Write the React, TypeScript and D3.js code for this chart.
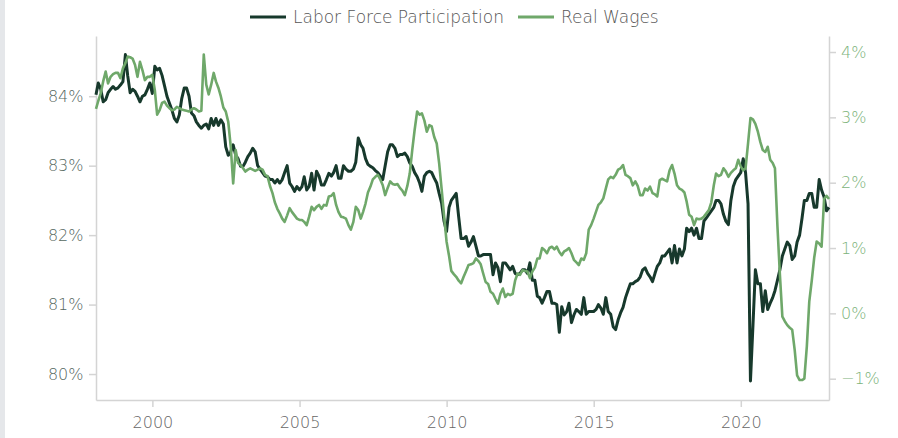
import * as d3 from "d3";
import React, { useEffect, useRef } from "react";

// prime-age labor force participation, monthly Jan 1998 - Dec 2022 (%)
const lfp: number[] = [
	84.02, 84.19, 84.1, 83.92, 83.95, 84.05, 84.1, 84.14, 84.1, 84.12, 84.16, 84.21, // 1998
	84.6, 84.3, 84.05, 84.1, 84.07, 84.0, 83.92, 84.0, 84.02, 84.1, 84.19, 84.04, // 1999
	84.43, 84.38, 84.4, 84.3, 84.15, 84.0, 83.9, 83.8, 83.68, 83.63, 83.73, 83.97, // 2000
	84.12, 84.12, 84.0, 83.76, 83.72, 83.63, 83.58, 83.54, 83.58, 83.6, 83.53, 83.68, // 2001
	83.58, 83.68, 83.58, 83.66, 83.6, 83.27, 83.15, 83.2, 83.3, 83.15, 83.1, 82.99, // 2002
	82.99, 83.05, 83.13, 83.18, 83.25, 83.2, 83.0, 82.95, 82.9, 82.85, 82.84, 82.8, // 2003
	82.8, 82.75, 82.8, 82.75, 82.8, 82.9, 83.0, 82.75, 82.7, 82.63, 82.7, 82.65, // 2004
	82.7, 82.84, 82.65, 82.7, 82.89, 82.65, 82.92, 82.85, 82.72, 82.72, 82.8, 82.89, // 2005
	82.85, 82.9, 83.0, 82.82, 82.82, 83.0, 82.95, 82.92, 82.92, 82.95, 83.05, 83.4, // 2006
	83.3, 83.25, 83.1, 83.02, 82.99, 82.97, 82.93, 82.9, 82.85, 82.8, 83.0, 83.2, // 2007
	83.3, 83.3, 83.25, 83.13, 83.16, 83.16, 83.18, 83.13, 83.04, 82.99, 82.9, 82.84, // 2008
	82.75, 82.63, 82.85, 82.9, 82.92, 82.9, 82.82, 82.75, 82.6, 82.46, 82.2, 82.05, // 2009
	82.4, 82.5, 82.55, 82.6, 82.26, 81.95, 81.95, 81.98, 81.84, 81.9, 81.98, 81.84, // 2010
	81.7, 81.7, 81.72, 81.72, 81.72, 81.72, 81.43, 81.6, 81.53, 81.33, 81.6, 81.6, // 2011
	81.55, 81.5, 81.55, 81.45, 81.43, 81.45, 81.5, 81.5, 81.45, 81.6, 81.35, 81.35, // 2012
	81.12, 81.1, 81.02, 81.1, 81.19, 81.19, 81.02, 81.02, 81.0, 80.6, 80.97, 80.85, // 2013
	80.9, 81.02, 80.74, 80.85, 80.93, 80.9, 80.86, 81.1, 80.86, 80.9, 80.9, 80.9, // 2014
	80.93, 81.0, 80.95, 80.86, 81.1, 80.9, 80.86, 80.68, 80.64, 80.78, 80.88, 80.96, // 2015
	81.1, 81.2, 81.3, 81.3, 81.33, 81.35, 81.4, 81.5, 81.53, 81.45, 81.4, 81.33, // 2016
	81.45, 81.55, 81.6, 81.7, 81.7, 81.75, 81.8, 81.6, 81.85, 81.6, 81.8, 81.7, // 2017
	81.8, 82.1, 82.05, 82.1, 82.0, 82.1, 81.95, 81.95, 82.2, 82.25, 82.3, 82.35, // 2018
	82.4, 82.5, 82.5, 82.45, 82.3, 82.2, 82.15, 82.5, 82.7, 82.8, 82.85, 82.9, // 2019
	83.1, 82.9, 82.45, 79.9, 80.7, 81.5, 81.3, 81.3, 80.9, 81.2, 80.93, 81.02, // 2020
	81.1, 81.2, 81.35, 81.5, 81.7, 81.8, 81.9, 81.85, 81.65, 81.7, 81.9, 82.0, // 2021
	82.25, 82.5, 82.5, 82.6, 82.6, 82.4, 82.4, 82.8, 82.65, 82.55, 82.35, 82.4, // 2022
];

// real wage growth, same months (%)
const realWages: number[] = [
	3.13, 3.25, 3.37, 3.55, 3.7, 3.52, 3.62, 3.66, 3.68, 3.68, 3.6, 3.75, // 1998
	3.83, 3.93, 3.92, 3.9, 3.8, 3.62, 3.85, 3.72, 3.57, 3.62, 3.62, 3.65, // 1999
	3.42, 3.04, 3.11, 3.22, 3.24, 3.18, 3.14, 3.11, 3.12, 3.16, 3.14, 3.12, // 2000
	3.11, 3.1, 3.09, 3.12, 3.14, 3.12, 3.09, 3.1, 3.96, 3.5, 3.35, 3.5, // 2001
	3.68, 3.55, 3.45, 3.32, 3.15, 3.09, 2.93, 2.55, 1.99, 2.5, 2.3, 2.27, // 2002
	2.22, 2.17, 2.2, 2.22, 2.2, 2.18, 2.2, 2.22, 2.2, 2.12, 2.1, 1.95, // 2003
	1.84, 1.7, 1.6, 1.53, 1.45, 1.4, 1.5, 1.61, 1.55, 1.5, 1.45, 1.43, // 2004
	1.43, 1.4, 1.35, 1.48, 1.63, 1.58, 1.63, 1.66, 1.6, 1.66, 1.65, 1.79, // 2005
	1.8, 1.84, 1.66, 1.55, 1.48, 1.47, 1.45, 1.35, 1.28, 1.4, 1.63, 1.58, // 2006
	1.45, 1.55, 1.68, 1.85, 1.94, 2.05, 2.09, 2.12, 2.05, 1.96, 1.81, 1.92, // 2007
	2.02, 1.98, 1.97, 1.98, 1.92, 1.88, 1.81, 1.95, 2.14, 2.5, 2.81, 3.09, // 2008
	3.04, 3.06, 2.95, 2.78, 2.88, 2.86, 2.7, 2.6, 2.3, 1.9, 1.5, 1.1, // 2009
	0.88, 0.65, 0.6, 0.56, 0.5, 0.46, 0.56, 0.65, 0.74, 0.75, 0.77, 0.84, // 2010
	0.8, 0.75, 0.61, 0.48, 0.45, 0.33, 0.3, 0.22, 0.15, 0.3, 0.38, 0.25, // 2011
	0.3, 0.28, 0.3, 0.5, 0.61, 0.59, 0.66, 0.65, 0.64, 0.54, 0.64, 0.7, // 2012
	0.84, 0.84, 1.0, 0.97, 0.92, 1.0, 1.02, 0.98, 1.02, 0.94, 0.89, 0.95, // 2013
	0.97, 1.0, 0.92, 0.82, 0.78, 0.74, 0.84, 0.82, 0.92, 1.28, 1.35, 1.45, // 2014
	1.56, 1.66, 1.7, 1.76, 1.91, 2.05, 2.09, 2.07, 2.12, 2.2, 2.22, 2.27, // 2015
	2.12, 2.1, 2.07, 1.96, 2.02, 1.95, 1.81, 1.81, 1.91, 1.88, 1.94, 1.84, // 2016
	1.82, 1.79, 2.04, 2.06, 2.04, 2.02, 2.19, 2.27, 2.14, 1.96, 1.91, 1.89, // 2017
	1.85, 1.71, 1.51, 1.48, 1.35, 1.45, 1.44, 1.45, 1.48, 1.53, 1.58, 1.7, // 2018
	1.96, 2.14, 2.1, 2.12, 2.22, 2.17, 2.09, 2.15, 2.19, 2.22, 2.35, 2.25, // 2019
	2.19, 2.22, 2.6, 2.99, 2.97, 2.9, 2.78, 2.62, 2.5, 2.47, 2.55, 2.35, // 2020
	2.3, 2.22, 1.33, 0.6, -0.05, -0.12, -0.18, -0.22, -0.25, -0.56, -0.95, -1.02, // 2021
	-1.02, -1.0, -0.5, 0.18, 0.5, 0.85, 1.1, 1.07, 1.02, 1.75, 1.8, 1.75, // 2022
];

const startYear = 1998;
const leftTicks = [80, 81, 82, 83, 84];
const rightTicks = [-1, 0, 1, 2, 3, 4];
const yearTicks = [2000, 2005, 2010, 2015, 2020];

const seriesNames = ["Labor Force Participation", "Real Wages"];
const colors = ["#17392c", "#6fa86a"];

// month-end dates
const dates = lfp.map((_, i) => new Date(startYear, i + 1, 0));

const App = (): JSX.Element => {
	const svgRef = useRef<SVGSVGElement>(null);

	useEffect(() => {
		const width = 898,
			height = 438;
		const margin = { top: 36, right: 69, bottom: 38, left: 96 };
		const font = "'DejaVu Sans', sans-serif";

		const svg = d3.select(svgRef.current).append("g");

		// grey strip on the far left
		svg.append("rect").attr("x", 0).attr("y", 0).attr("width", 5).attr("height", height).attr("fill", "#e5e7ea");

		const x = d3
			.scaleTime()
			.domain([dates[0], dates[dates.length - 1]])
			.range([margin.left, width - margin.right]);

		const yL = d3
			.scaleLinear()
			.domain([79.626, 84.867])
			.range([height - margin.bottom, margin.top]);

		const yR = d3
			.scaleLinear()
			.domain([-1.326, 4.245])
			.range([height - margin.bottom, margin.top]);

		const styleAxis = (g: any, color: string, size: number) => {
			g.select(".domain").attr("stroke", "#d4d4d4").attr("stroke-width", 1.5);
			g.selectAll(".tick line").attr("stroke", "#d4d4d4").attr("stroke-width", 1.5);
			g.selectAll("text")
				.attr("fill", color)
				.style("font-family", font)
				.style("font-size", `${size}px`)
				.style("font-weight", 300);
		};

		// left axis
		svg.append("g")
			.attr("transform", `translate(${margin.left},0)`)
			.call(
				d3
					.axisLeft(yL)
					.tickValues(leftTicks)
					.tickSize(7)
					.tickSizeOuter(0)
					.tickPadding(5.5)
					.tickFormat((d) => `${d}%`)
			)
			.call((g) => styleAxis(g, "#56685f", 16));

		// right axis
		svg.append("g")
			.attr("transform", `translate(${width - margin.right},0)`)
			.call(
				d3
					.axisRight(yR)
					.tickValues(rightTicks)
					.tickSize(7)
					.tickSizeOuter(0)
					.tickPadding(5)
					.tickFormat((d: any) => `${d < 0 ? "\u2212" + Math.abs(d) : d}%`)
			)
			.call((g) => styleAxis(g, "#7cb37a", 16));

		// bottom axis
		svg.append("g")
			.attr("transform", `translate(0,${height - margin.bottom})`)
			.call(
				d3
					.axisBottom(x)
					.tickValues(yearTicks.map((yr) => new Date(yr, 0, 1)))
					.tickSize(7)
					.tickSizeOuter(0)
					.tickPadding(10)
					.tickFormat((d: any) => d3.timeFormat("%Y")(d))
			)
			.call((g) => styleAxis(g, "#666", 16));

		// lines
		const lineL = d3
			.line<number>()
			.x((_, i) => x(dates[i]))
			.y((d) => yL(d));
		const lineR = d3
			.line<number>()
			.x((_, i) => x(dates[i]))
			.y((d) => yR(d));

		svg.append("path")
			.datum(lfp)
			.attr("d", lineL)
			.attr("fill", "none")
			.attr("stroke", colors[0])
			.attr("stroke-width", 3)
			.attr("stroke-linejoin", "round");

		svg.append("path")
			.datum(realWages)
			.attr("d", lineR)
			.attr("fill", "none")
			.attr("stroke", colors[1])
			.attr("stroke-width", 2.6)
			.attr("stroke-linejoin", "round");

		// legend
		const legendX = [250, 518];
		const legend = svg
			.selectAll("g.legend")
			.data(seriesNames)
			.join("g")
			.attr("class", "legend")
			.attr("transform", (_, i) => `translate(${legendX[i]},17)`);
		legend
			.append("line")
			.attr("x1", 0)
			.attr("x2", 36)
			.attr("stroke", (_, i) => colors[i])
			.attr("stroke-width", 3);
		legend
			.append("text")
			.attr("x", 43)
			.attr("dy", "0.38em")
			.attr("fill", "#555")
			.style("font-family", font)
			.style("font-size", "17px")
			.style("font-weight", 300)
			.text((d) => d);

		return () => {
			svg.remove();
		};
	}, []);

	return (
		<svg
			ref={svgRef}
			width={898}
			height={438}
			style={{ position: "absolute", left: 0, top: 0, background: "#fff" }}
		/>
	);
};

export default App;
